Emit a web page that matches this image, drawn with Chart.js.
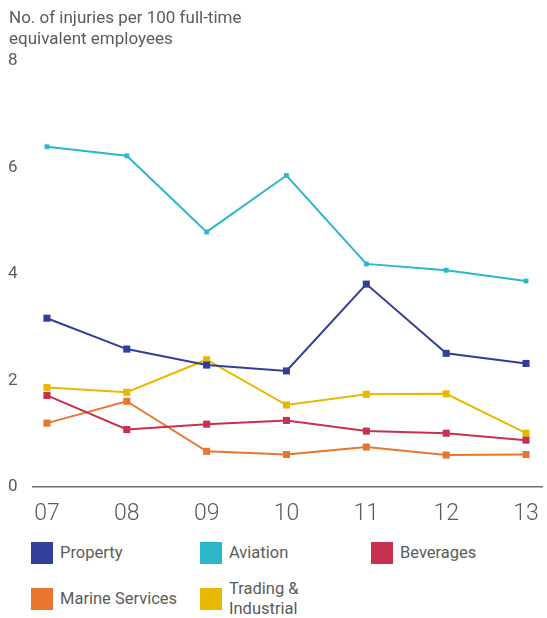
<!DOCTYPE html>
<html>
<head>
<meta charset="utf-8">
<script src="https://cdn.jsdelivr.net/npm/chart.js@4"></script>
<style>
  body { margin: 0; background: #fff; font-family: Roboto, "Noto Sans", sans-serif; color: #5b5b5b; }
  #wrap { position: relative; width: 547px; height: 618px; }
  #title { position: absolute; left: 9px; top: 7px; font-size: 17px; line-height: 21px; }
  #chart { position: absolute; left: 0; top: 0; }
  .legend { position: absolute; left: 0; top: 0; }
  .item { position: absolute; display: flex; align-items: center; font-size: 16.5px; line-height: 20px; white-space: nowrap; }
  .item span.box { width: 22px; height: 22px; margin-right: 7px; flex: none; }
</style>
</head>
<body>
<div id="wrap">
  <canvas id="chart" width="547" height="530"></canvas>
  <div id="title">No. of injuries per 100 full-time<br>equivalent employees</div>
  <div class="legend" id="legend"></div>
</div>
<script>
let years = ['07', '08', '09', '10', '11', '12', '13'];
let property = [3.17, 2.59, 2.29, 2.18, 3.81, 2.51, 2.32];
let aviation = [6.39, 6.22, 4.79, 5.85, 4.19, 4.07, 3.87];
let beverages = [1.72, 1.08, 1.18, 1.25, 1.05, 1.01, 0.88];
let marine = [1.20, 1.61, 0.67, 0.61, 0.75, 0.60, 0.61];
let trading = [1.87, 1.78, 2.39, 1.54, 1.74, 1.75, 1.01];
let yTicks = [0, 2, 4, 6, 8];

let series = [
  { label: 'Property', values: property, color: '#313e9a', radius: 5 },
  { label: 'Aviation', values: aviation, color: '#2cb6ca', radius: 3.4 },
  { label: 'Beverages', values: beverages, color: '#c8304f', radius: 5 },
  { label: 'Marine Services', values: marine, color: '#e8762f', radius: 5 },
  { label: 'Trading &\nIndustrial', values: trading, color: '#e8b800', radius: 5 }
];

let datasets = series.map(s => ({
  label: s.label,
  data: s.values.map((v, i) => ({ x: i, y: v })),
  borderColor: s.color,
  backgroundColor: s.color,
  borderWidth: 2,
  pointStyle: 'rect',
  pointRadius: s.radius,
  pointBorderWidth: 0,
  tension: 0
}));

new Chart(document.getElementById('chart'), {
  type: 'line',
  data: { datasets },
  options: {
    responsive: false,
    animation: false,
    layout: { padding: { left: 8, right: 3, top: 61, bottom: 0 } },
    plugins: { legend: { display: false }, tooltip: { enabled: false } },
    scales: {
      x: {
        type: 'linear',
        min: -0.1746,
        max: 6.2,
        afterBuildTicks: scale => { scale.ticks = years.map((y, i) => ({ value: i })); },
        afterFit: scale => { scale.height = 43; },
        grid: { display: false },
        border: { display: true, color: '#6e6e6e', width: 1.5 },
        ticks: {
          autoSkip: false,
          maxRotation: 0,
          padding: 5,
          color: '#5b5b5b',
          font: { family: 'Roboto', size: 23, weight: 300 },
          callback: v => years[v]
        }
      },
      y: {
        min: 0,
        max: 8,
        afterBuildTicks: scale => { scale.ticks = yTicks.map(v => ({ value: v })); },
        afterFit: scale => { scale.width = 25; },
        grid: { display: false },
        border: { display: false },
        ticks: {
          crossAlign: 'far',
          padding: 0,
          color: '#5b5b5b',
          font: { family: 'Roboto', size: 17 }
        }
      }
    }
  }
});

let legendPos = [
  [31, 542], [200, 542], [371, 542],
  [31, 588], [200, 588]
];
let legend = document.getElementById('legend');
series.forEach((s, i) => {
  let item = document.createElement('div');
  item.className = 'item';
  item.style.left = legendPos[i][0] + 'px';
  item.style.top = legendPos[i][1] + 'px';
  item.style.height = '22px';
  item.innerHTML = '<span class="box" style="background:' + s.color + '"></span><span>' +
    s.label.replace('&', '&amp;').replace('\n', '<br>') + '</span>';
  legend.appendChild(item);
});
</script>
</body>
</html>
